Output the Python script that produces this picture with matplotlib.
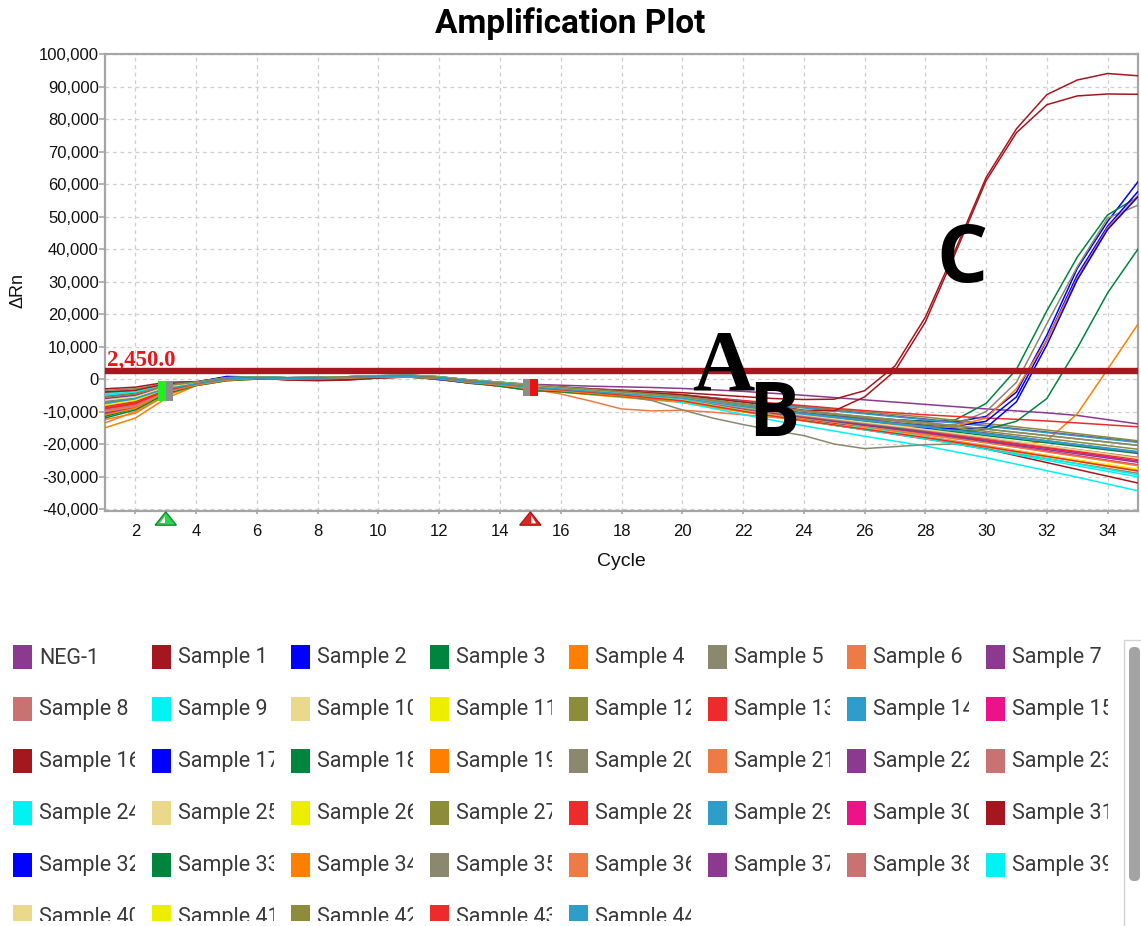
import numpy as np
import matplotlib
matplotlib.use("Agg")
import matplotlib.pyplot as plt
import matplotlib.transforms as mtransforms
from matplotlib.patches import Rectangle, Polygon, FancyBboxPatch
from matplotlib.ticker import FuncFormatter, MultipleLocator

# ---------------------------------------------------------------- data
cycles = list(range(1, 36))
threshold = 2450.0
baseline_start = 3
baseline_end = 15

neg_1 = [-5000, -4500, -2000,
         -1000, 400, 600, 400, 500, 700, 1000, 1100, 700, -300, -1000, -1600,
         -1900, -2200, -2400, -2600, -2900, -3300, -3800, -4400, -5000, -5700,
         -6400, -7100, -7800, -8500, -9200, -9800, -10400, -11200, -12500, -13800]
sample_1 = [-9000, -7000, -3000,
            -1500, 0, 300, -200, -400, -200, 300, 600, 300, -800, -1500, -2200,
            -2600, -3000, -3400, -3800, -4200, -4800, -5400, -6000, -6300, -6200,
            -3600, 4000, 19000, 40000, 62000, 77000, 87500, 92000, 94000, 93300]
sample_2 = [-6000, -5000, -2500,
            -1000, 800, 600, 300, 400, 600, 800, 700, -200, -1200, -1800, -2600,
            -3200, -3900, -4600, -5300, -6000, -7200, -8400, -9500, -10500, -11300,
            -12000, -12500, -13000, -13200, -11500, -4000, 13500, 34000, 48500, 60700]
sample_3 = [-11000, -8500, -3500,
            -1800, -300, 200, 100, 200, 400, 600, 800, 300, -900, -1700, -2800,
            -3400, -4100, -4800, -5500, -6200, -7500, -8700, -9800, -10700, -11500,
            -12200, -12700, -13000, -12500, -7500, 3000, 21000, 37500, 50500, 56000]
sample_4 = [-15000, -12000, -6000,
            -2000, -500, 0, 0, 100, 300, 500, 600, 0, -1200, -2200, -3500,
            -4000, -4800, -5600, -6400, -7200, -8700, -10100, -11400, -12600, -13800,
            -15000, -16100, -17200, -18400, -19500, -20500, -19000, -10700, 3000, 16900]
sample_5 = [-8000, -6500, -3000,
            -1500, 0, 300, 200, 300, 500, 700, 800, 300, -800, -1500, -2500,
            -3100, -3800, -4500, -5200, -5900, -7200, -8500, -9700, -10800, -11800,
            -12700, -13500, -14200, -14000, -10000, -1000, 17000, 34500, 49500, 53500]
sample_6 = [-13500, -10000, -5000,
            -1800, -300, 200, 100, 200, 400, 600, 700, 200, -1000, -1800, -3000,
            -4600, -6800, -9200, -9800, -9600, -10200, -11000, -11800, -12700, -13600,
            -14500, -15400, -16300, -17300, -18300, -19400, -20500, -21700, -22900, -24100]
sample_7 = [-4000, -3500, -1500,
            -1000, 400, 600, 400, 500, 700, 1000, 1200, 700, -300, -1000, -1800,
            -2400, -3000, -3600, -4200, -4800, -5800, -6800, -7800, -8700, -9600,
            -10500, -11400, -12300, -13300, -14300, -15300, -16300, -17300, -18300, -19300]
sample_8 = [-10000, -8000, -3500,
            -1500, 0, 300, 200, 300, 500, 700, 800, 300, -800, -1500, -2500,
            -3200, -3900, -4600, -5400, -6200, -7600, -9000, -10300, -11500, -12600,
            -13700, -14800, -15900, -17100, -18300, -19600, -20900, -22200, -23500, -24800]
sample_9 = [-7000, -5500, -2500,
            -1200, 200, 400, 300, 400, 600, 800, 900, 500, -500, -1200, -2000,
            -3000, -4000, -5000, -6000, -7200, -9000, -10900, -12700, -14400, -16000,
            -17600, -19100, -20600, -22400, -24200, -26200, -28200, -30200, -32300, -34400]
sample_10 = [-6500, -5000, -2500,
             -1200, 200, 400, 300, 400, 600, 800, 900, 500, -500, -1200, -2000,
             -2800, -3500, -4300, -5100, -5900, -7300, -8700, -10000, -11200, -12300,
             -13400, -14500, -15600, -16900, -18200, -19600, -21000, -22400, -23800, -25200]
sample_11 = [-8500, -7000, -3000,
             -1500, 0, 300, 200, 300, 500, 700, 800, 300, -800, -1500, -2500,
             -3300, -4100, -4900, -5700, -6500, -8000, -9500, -10900, -12100, -13300,
             -14500, -15600, -16700, -18000, -19300, -20800, -22300, -23800, -25300, -26800]
sample_12 = [-3500, -3000, -1500,
             -1000, 400, 600, 400, 500, 700, 1000, 1200, 700, -300, -1000, -1800,
             -2400, -3000, -3600, -4200, -4800, -5800, -6800, -7700, -8500, -9300,
             -10100, -10900, -11700, -12700, -13700, -14700, -15700, -16800, -17900, -19000]
sample_13 = [-9500, -7500, -3500,
             -1500, 0, 300, 200, 300, 500, 700, 800, 300, -800, -1500, -2500,
             -3000, -3500, -4000, -4500, -5000, -5800, -6600, -7400, -8200, -9000,
             -9700, -10400, -11000, -11500, -12000, -12400, -12900, -13500, -14100, -14700]
sample_14 = [-7500, -6000, -2500,
             -1200, 200, 400, 300, 400, 600, 800, 900, 500, -500, -1200, -2000,
             -2600, -3200, -3800, -4400, -5000, -6000, -7000, -8000, -8900, -9800,
             -10700, -11600, -12500, -13500, -14500, -15500, -16500, -17500, -18500, -19500]
sample_15 = [-10500, -8500, -4000,
             -1800, -300, 200, 100, 200, 400, 600, 700, 200, -1000, -1800, -3000,
             -3600, -4300, -5000, -5700, -6400, -7800, -9200, -10500, -11700, -12800,
             -13900, -15000, -16100, -17400, -18700, -20000, -21300, -22600, -23900, -25200]
sample_16 = [-3000, -2500, -1000,
             -800, 500, 600, 400, 500, 700, 900, 1000, 600, -400, -1100, -1900,
             -2500, -3100, -3700, -4300, -4900, -6000, -7100, -8200, -9600, -9800,
             -5500, 2500, 17500, 39000, 61000, 75800, 84400, 87100, 87700, 87600]
sample_17 = [-5500, -4500, -2000,
             -1000, 600, 500, 300, 400, 600, 800, 800, 0, -1300, -2000, -2800,
             -3400, -4100, -4800, -5500, -6300, -7600, -8900, -10100, -11200, -12200,
             -13000, -13700, -14200, -14500, -13000, -5500, 12000, 32000, 47000, 57700]
sample_18 = [-11500, -9000, -4000,
             -1800, -300, 200, 100, 200, 400, 600, 700, 200, -1000, -1800, -3000,
             -3500, -4200, -4900, -5600, -6300, -7600, -8900, -10100, -11200, -12200,
             -13200, -14200, -15200, -16300, -17400, -18500, -19600, -20700, -21800, -22900]
sample_19 = [-12500, -10500, -5000,
             -2000, -500, 0, 0, 100, 300, 500, 600, 0, -1200, -2200, -3500,
             -4000, -4700, -5400, -6100, -6800, -8100, -9400, -10600, -11700, -12700,
             -13600, -14300, -14800, -14500, -12000, -3000, 12000, 31000, 46500, 56500]
sample_20 = [-8000, -6500, -3000,
             -1500, 0, 300, 200, 300, 500, 700, 800, 300, -800, -1500, -2500,
             -3300, -4200, -5200, -6600, -9500, -12000, -14000, -15800, -17400, -20000,
             -21400, -20800, -20200, -20000, -21500, -23000, -24500, -26000, -27500, -29000]
sample_21 = [-9000, -7500, -3500,
             -1500, 0, 300, 200, 300, 500, 700, 800, 300, -800, -1500, -2500,
             -3200, -4000, -4800, -5600, -6400, -7900, -9400, -10800, -12100, -13300,
             -14500, -15700, -16900, -18200, -19500, -20900, -22300, -23700, -25100, -26500]
sample_22 = [-10500, -9000, -4000,
             -1800, -300, 200, 100, 200, 400, 600, 700, 200, -1000, -1800, -3000,
             -3500, -4100, -4700, -5300, -5900, -7100, -8300, -9400, -10400, -11400,
             -12400, -13400, -14400, -15500, -16600, -17800, -19000, -20200, -21400, -22600]
sample_23 = [-9500, -8000, -3500,
             -1500, 0, 300, 200, 300, 500, 700, 800, 300, -800, -1500, -2500,
             -3300, -4100, -4900, -5700, -6500, -8100, -9700, -11200, -12500, -13800,
             -15100, -16400, -17700, -19100, -20500, -22000, -23500, -25000, -26500, -28000]
sample_24 = [-4500, -3500, -1500,
             -1000, 400, 600, 400, 500, 700, 1000, 1100, 600, -400, -1100, -1900,
             -2700, -3500, -4300, -5200, -6100, -7700, -9300, -10800, -12200, -13600,
             -15000, -16400, -17800, -19400, -21000, -22700, -24400, -26100, -27800, -29500]
sample_25 = [-6000, -5000, -2500,
             -1200, 200, 400, 300, 400, 600, 800, 900, 500, -500, -1200, -2000,
             -2900, -3700, -4500, -5300, -6100, -7600, -9100, -10500, -11800, -13000,
             -14200, -15400, -16600, -18000, -19400, -20800, -22200, -23600, -25000, -26400]
sample_26 = [-7500, -6000, -3000,
             -1500, 0, 300, 200, 300, 500, 700, 800, 300, -800, -1500, -2500,
             -3300, -4100, -5000, -5900, -6800, -8400, -10000, -11500, -12900, -14200,
             -15500, -16800, -18100, -19500, -20900, -22400, -23900, -25400, -26900, -28400]
sample_27 = [-5000, -4000, -2000,
             -1000, 400, 600, 400, 500, 700, 1000, 1200, 700, -300, -1000, -1800,
             -2500, -3200, -3900, -4600, -5300, -6500, -7700, -8800, -9800, -10700,
             -11600, -12500, -13400, -14400, -15400, -16400, -17400, -18400, -19400, -20400]
sample_28 = [-8500, -7000, -3000,
             -1500, 0, 300, 200, 300, 500, 700, 800, 300, -800, -1500, -2500,
             -3200, -3900, -4700, -5500, -6300, -7800, -9200, -10600, -11800, -13000,
             -14100, -15200, -16300, -17500, -18700, -19900, -21100, -22300, -23500, -24700]
sample_29 = [-6500, -5500, -2500,
             -1200, 200, 400, 300, 400, 600, 800, 900, 500, -500, -1200, -2000,
             -2700, -3400, -4100, -4900, -5700, -7000, -8300, -9500, -10600, -11600,
             -12600, -13600, -14600, -15700, -16800, -17900, -19000, -20100, -21200, -22300]
sample_30 = [-9000, -7500, -3500,
             -1500, 0, 300, 200, 300, 500, 700, 800, 300, -800, -1500, -2500,
             -3200, -4000, -4800, -5600, -6400, -7900, -9300, -10700, -12000, -13200,
             -14400, -15600, -16800, -18100, -19400, -20800, -22200, -23600, -25000, -26400]
sample_31 = [-4000, -3500, -1500,
             -1000, 400, 300, -300, -500, -300, 300, 700, 400, -600, -1300, -2100,
             -2900, -3700, -4600, -5500, -6400, -8000, -9600, -11100, -12600, -14200,
             -15600, -17000, -18400, -19900, -21500, -23600, -25700, -27800, -29900, -32000]
sample_32 = [-7000, -6000, -2500,
             -1200, 200, 400, 300, 400, 600, 800, 900, 500, -500, -1200, -2000,
             -2900, -3800, -4700, -5600, -6500, -8100, -9700, -11100, -12400, -13600,
             -14400, -14900, -15200, -15300, -15000, -7000, 10500, 30500, 46000, 56100]
sample_33 = [-12000, -9500, -4500,
             -2000, -500, 0, 0, 100, 300, 500, 600, 0, -1200, -2200, -3500,
             -3900, -4600, -5300, -6000, -6700, -8100, -9500, -10800, -12000, -13100,
             -14100, -15000, -15800, -16300, -15500, -13000, -6000, 9500, 26500, 40000]
sample_34 = [-11000, -9000, -4000,
             -1800, -300, 200, 100, 200, 400, 600, 700, 200, -1000, -1800, -3000,
             -3600, -4400, -5200, -6000, -6800, -8400, -10000, -11500, -12900, -14200,
             -15500, -16800, -18100, -19500, -20900, -22300, -23700, -25100, -26500, -27900]
sample_35 = [-7000, -6000, -3000,
             -1500, 0, 300, 200, 300, 500, 700, 800, 300, -800, -1500, -2500,
             -3000, -3600, -4200, -4800, -5400, -6500, -7600, -8700, -9700, -10700,
             -11600, -12500, -13400, -14400, -15400, -16400, -17400, -18400, -19400, -20400]
sample_36 = [-10000, -8500, -4000,
             -1800, -300, 200, 100, 200, 400, 600, 700, 200, -1000, -1800, -3000,
             -3500, -4200, -4900, -5700, -6500, -8000, -9500, -10900, -12200, -13400,
             -14600, -15800, -17000, -18300, -19600, -21000, -22400, -23800, -25200, -26600]
sample_37 = [-6000, -5000, -2500,
             -1200, 200, 400, 300, 400, 600, 800, 900, 500, -500, -1200, -2000,
             -2800, -3600, -4400, -5200, -6000, -7500, -9000, -10400, -11700, -12900,
             -14100, -15300, -16500, -17800, -19100, -20400, -21700, -23000, -24300, -25600]
sample_38 = [-8000, -6500, -3000,
             -1500, 0, 300, 200, 300, 500, 700, 800, 300, -800, -1500, -2500,
             -3100, -3800, -4500, -5300, -6100, -7500, -8900, -10200, -11400, -12500,
             -13600, -14700, -15800, -17000, -18200, -19400, -20600, -21800, -23000, -24200]
sample_39 = [-5000, -4000, -2000,
             -1000, 400, 600, 400, 500, 700, 1000, 1200, 700, -300, -1000, -1800,
             -2700, -3600, -4500, -5400, -6300, -8000, -9700, -11300, -12800, -14200,
             -15600, -17000, -18400, -20000, -21600, -23300, -25000, -26700, -28400, -30100]
sample_40 = [-6500, -5500, -2500,
             -1200, 200, 400, 300, 400, 600, 800, 900, 500, -500, -1200, -2000,
             -2700, -3400, -4200, -5000, -5800, -7200, -8600, -9900, -11100, -12200,
             -13300, -14400, -15500, -16700, -17900, -19200, -20500, -21800, -23100, -24400]
sample_41 = [-8000, -6500, -3000,
             -1500, 0, 300, 200, 300, 500, 700, 800, 300, -800, -1500, -2500,
             -3200, -4000, -4800, -5700, -6600, -8200, -9800, -11300, -12700, -14000,
             -15300, -16600, -17900, -19300, -20700, -22100, -23500, -24900, -26300, -27700]
sample_42 = [-5500, -4500, -2000,
             -1000, 400, 600, 400, 500, 700, 1000, 1100, 600, -400, -1100, -1900,
             -2600, -3300, -4000, -4700, -5400, -6600, -7800, -8900, -9900, -10900,
             -11900, -12900, -13900, -15000, -16100, -17200, -18300, -19400, -20500, -21600]
sample_43 = [-9000, -7500, -3500,
             -1500, 0, 300, 200, 300, 500, 700, 800, 300, -800, -1500, -2500,
             -3300, -4100, -4900, -5800, -6700, -8300, -9900, -11400, -12800, -14100,
             -15400, -16700, -18000, -19400, -20800, -22300, -23800, -25300, -26800, -28300]
sample_44 = [-7500, -6000, -3000,
             -1500, 0, 300, 200, 300, 500, 700, 800, 300, -800, -1500, -2500,
             -3100, -3800, -4500, -5200, -5900, -7200, -8500, -9700, -10800, -11800,
             -12800, -13800, -14800, -15900, -17000, -18100, -19200, -20300, -21400, -22500]

series_names = ["NEG-1"] + [f"Sample {i}" for i in range(1, 45)]
series_values = [neg_1, sample_1, sample_2, sample_3, sample_4, sample_5, sample_6,
                 sample_7, sample_8, sample_9, sample_10, sample_11, sample_12,
                 sample_13, sample_14, sample_15, sample_16, sample_17, sample_18,
                 sample_19, sample_20, sample_21, sample_22, sample_23, sample_24,
                 sample_25, sample_26, sample_27, sample_28, sample_29, sample_30,
                 sample_31, sample_32, sample_33, sample_34, sample_35, sample_36,
                 sample_37, sample_38, sample_39, sample_40, sample_41, sample_42,
                 sample_43, sample_44]
for vals in series_values:
    assert len(vals) == len(cycles)

# well colours repeat every 15 samples; the negative control uses the purple
well_palette = ["#A5171F", "#0000FF", "#00853E", "#FF7F00", "#8A8970",
                "#EE7B45", "#8B3A8F", "#C87272", "#00F2F2", "#EAD98A",
                "#EDED00", "#8C8C3A", "#EE2B2B", "#2E9DC9", "#EE1289"]
series_colors = ["#8B3A8F"] + [well_palette[(i - 1) % 15] for i in range(1, 45)]

# ---------------------------------------------------------------- figure
W, H = 1141, 926
fig = plt.figure(figsize=(W / 100, H / 100), dpi=100, facecolor="white")

sans = ["Liberation Sans", "DejaVu Sans"]
ui = ["Roboto", "DejaVu Sans"]
serif = ["Liberation Serif", "DejaVu Serif"]

ax_left, ax_right, ax_top, ax_bottom = 105, 1138, 54, 511
ax = fig.add_axes([ax_left / W, 1 - ax_bottom / H,
                   (ax_right - ax_left) / W, (ax_bottom - ax_top) / H], zorder=2)

for vals, color in zip(series_values, series_colors):
    ax.plot(cycles, vals, color=color, lw=1.1, zorder=3, solid_joinstyle="round")

ax.set_xlim(1, 35)
ax.set_ylim(-40600, 100000)
ax.set_xticks(range(2, 35, 2))
ax.yaxis.set_major_locator(MultipleLocator(10000))
ax.yaxis.set_major_formatter(FuncFormatter(lambda v, _: f"{int(round(v)):,}"))
ax.grid(True, color="#CFCFCF", lw=0.9, ls=(0, (3, 3)), zorder=0)
for sp in ax.spines.values():
    sp.set_color("#A5A5A5")
    sp.set_linewidth(1.6)
ax.tick_params(axis="y", length=4, width=1.2, color="#A5A5A5", pad=0.5,
               labelsize=12, labelcolor="#111111")
ax.tick_params(axis="x", length=2, width=1.2, color="#A5A5A5", pad=7,
               labelsize=12, labelcolor="#111111")
for lab in ax.get_xticklabels() + ax.get_yticklabels():
    lab.set_family(sans)

# threshold line and its value label
ax.axhline(threshold, color="#A8171F", lw=4.6, zorder=4)
ax.text(1.07, threshold + 1500, f"{threshold:,.1f}", color="#E5161C",
        fontsize=16.5, fontweight="bold", family=serif, va="baseline", ha="left",
        zorder=6, clip_on=False)

# baseline start / end handles on the curves
for cyc, colour, side in [(baseline_start, "#22EE22", "left"),
                          (baseline_end, "#EE1111", "right")]:
    lo, hi = (-6700, -600) if cyc == baseline_start else (-5200, 0)
    w = 0.24
    grey_x = cyc if side == "left" else cyc - w
    col_x = cyc - w if side == "left" else cyc
    ax.add_patch(Rectangle((col_x, lo), w, hi - lo, color=colour, zorder=5, lw=0))
    ax.add_patch(Rectangle((grey_x, lo), w, hi - lo, color="#8C8C8C", zorder=5, lw=0))

# baseline start / end triangles under the cycle axis
blend = mtransforms.blended_transform_factory(ax.transData, ax.transAxes)
for cyc, fill, edge, white_left in [(baseline_start, "#2BD64A", "#178A33", True),
                                    (baseline_end, "#E02424", "#B01818", False)]:
    hw, top, base = 0.35, -0.002, -0.031
    ax.add_patch(Polygon([(cyc - hw, base), (cyc + hw, base), (cyc, top)],
                         closed=True, facecolor=fill, edgecolor=edge, lw=1.0,
                         transform=blend, clip_on=False, zorder=6))
    if white_left:
        pts = [(cyc - hw * 0.55, base + 0.004), (cyc - 0.02, base + 0.004), (cyc - 0.02, top - 0.008)]
    else:
        pts = [(cyc + 0.03, base + 0.004), (cyc + hw * 0.55, base + 0.004), (cyc + 0.03, top - 0.008)]
    ax.add_patch(Polygon(pts, closed=True, facecolor="white", edgecolor="none",
                         transform=blend, clip_on=False, zorder=7))

# region callouts
ax.text(21.35, -3070, "A", fontsize=62, fontweight="bold", family=serif,
        ha="center", va="baseline", color="black", zorder=8)
ax.text(23.0, -17500, "B", fontsize=55, fontweight="bold",
        family=["Open Sans", "DejaVu Sans"], ha="center", va="baseline",
        color="black", zorder=8)
ax.text(29.2, 29750, "C", fontsize=58, fontweight="bold",
        family=["Open Sans", "DejaVu Sans"], ha="center", va="baseline",
        color="black", zorder=8)

# titles
fig.text(0.5, 1 - 24 / H, "Amplification Plot", ha="center", va="center",
         fontsize=24, fontweight="bold", family=ui, color="black")
fig.text((ax_left + ax_right) / 2 / W, 1 - 562 / H, "Cycle", ha="center",
         va="center", fontsize=14, family=sans, color="#111111")
fig.text(18 / W, 1 - 290 / H, "ΔRn", ha="center", va="center", rotation=90,
         fontsize=13, family=sans, color="#111111")

# ---------------------------------------------------------------- legend panel
ov = fig.add_axes([0, 0, 1, 1], zorder=1)
ov.set_xlim(0, W)
ov.set_ylim(H, 0)
ov.axis("off")
ov.patch.set_alpha(0)

n_cols, col_w, row_h = 8, 139, 52
x0, y0 = 13, 657
clip_bottom = 921
for k, (name, color) in enumerate(zip(series_names, series_colors)):
    r, c = divmod(k, n_cols)
    xl = x0 + c * col_w
    yc = y0 + r * row_h
    box = mtransforms.Bbox.from_extents(xl - 2, H - clip_bottom, xl + col_w - 17, H - (yc - 40))
    sq = Rectangle((xl, yc - 12), 19, 24, facecolor=color, edgecolor="none")
    ov.add_patch(sq)
    sq.set_clip_box(box)
    t = ov.text(xl + 26, yc + 1, name, fontsize=15.5, family=ui, color="#3A3A3A",
                ha="left", va="center")
    t.set_clip_box(box)
    t.set_clip_on(True)

# scroll area frame and thumb
ov.plot([1124, 1124, W], [H, 640, 640], color="#D4D4D4", lw=1.0)
ov.add_patch(FancyBboxPatch((1129, 647), 11, 234, boxstyle="round,pad=0,rounding_size=5",
                            facecolor="#A3A3A3", edgecolor="none"))

fig.savefig("out.png", dpi=100, facecolor="white")
